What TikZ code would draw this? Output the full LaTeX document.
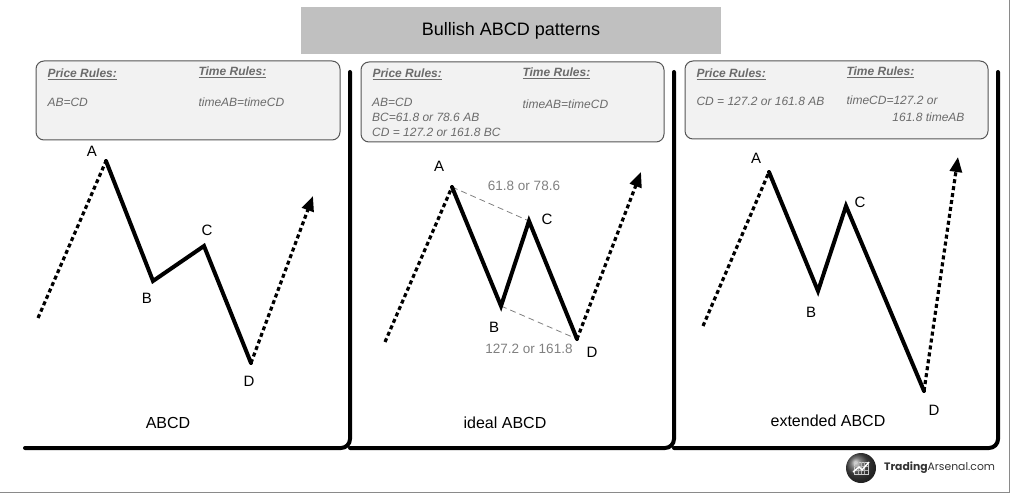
\documentclass[tikz,border=0pt]{standalone}
\usepackage{fontspec}
\setmainfont{Liberation Sans}
\newfontfamily\brandfont{Poppins}
\usetikzlibrary{arrows.meta,shapes.geometric}
\definecolor{titlegray}{HTML}{C0C0C0}
\definecolor{boxfill}{HTML}{F2F2F2}
\definecolor{boxline}{HTML}{555555}
\definecolor{ruletext}{HTML}{6B6B6B}
\definecolor{framegray}{HTML}{8A8A8A}
\definecolor{fibgray}{HTML}{808080}
\tikzset{
  panel/.style={line width=4pt, line cap=round, rounded corners=9pt},
  rulebox/.style={draw=boxline, fill=boxfill, line width=1pt, rounded corners=8pt},
  rulehead/.style={anchor=west, text=ruletext, font=\fontsize{12}{14}\selectfont\bfseries\itshape},
  ruletxt/.style={anchor=west, text=ruletext, font=\fontsize{12}{14}\selectfont\itshape, align=left},
  leg/.style={line width=4pt, line cap=round, line join=miter},
  trend/.style={line width=3.2pt, dash pattern=on 4pt off 3pt},
  trendarrow/.style={trend, -{Triangle[length=15pt,width=12pt]}},
  fib/.style={draw=fibgray, line width=0.8pt, dash pattern=on 6pt off 4pt},
  ptlabel/.style={font=\fontsize{15}{17}\selectfont},
  fiblabel/.style={text=fibgray, font=\fontsize{13.5}{16}\selectfont},
  caption/.style={font=\fontsize{16}{18}\selectfont},
}
\begin{document}
\begin{tikzpicture}[x=1pt,y=-1pt]
\useasboundingbox (0,0) rectangle (1011,494);
% outer frame (right and bottom edges)
\draw[framegray, line width=1.2pt] (1009.5,0) -- (1009.5,492.5) -- (0,492.5);
% title
\node[fill=titlegray, minimum width=420pt, minimum height=47pt, inner sep=0pt,
      font=\fontsize{18}{20}\selectfont] (title) at (511,30.5) {Bullish ABCD patterns};

% ---------- panels ----------
\draw[panel] (25,448) -| (350,72);
\draw[panel] (350,448) -| (674,72);
\draw[panel] (674,448) -| (998,72);

% ---------- rule boxes ----------
\draw[rulebox] (36,61) rectangle (340,140);
\node[rulehead] (p1h) at (44,74) {\underline{Price Rules:}};
\node[rulehead] (t1h) at (195,72) {\underline{Time Rules:}};
\node[ruletxt] (p1t) at (44,102) {AB=CD};
\node[ruletxt] (t1t) at (195,102) {timeAB=timeCD};

\draw[rulebox] (361,62) rectangle (664,142);
\node[rulehead] (p2h) at (369,74) {\underline{Price Rules:}};
\node[rulehead] (t2h) at (519,73) {\underline{Time Rules:}};
\node[ruletxt, inner sep=0pt] (p2a) at (372,102) {AB=CD};
\node[ruletxt, inner sep=0pt] (p2b) at (372,117) {BC=61.8 or 78.6 AB};
\node[ruletxt, inner sep=0pt] (p2c) at (372,132) {CD = 127.2 or 161.8 BC};
\node[ruletxt] (t2t) at (519,104) {timeAB=timeCD};

\draw[rulebox] (685,61) rectangle (988,139);
\node[rulehead] (p3h) at (693,74) {\underline{Price Rules:}};
\node[rulehead] (t3h) at (843,72) {\underline{Time Rules:}};
\node[ruletxt] (p3t) at (693,101) {CD = 127.2 or 161.8 AB};
\node[ruletxt] (t3a) at (843,100) {timeCD=127.2 or};
\node[ruletxt, anchor=east] (t3b) at (968,117) {161.8 timeAB};

% ---------- panel 1 chart ----------
\coordinate (s1) at (38,318);
\coordinate (A1) at (106,161);
\coordinate (B1) at (153,281);
\coordinate (C1) at (204,246);
\coordinate (D1) at (251,363);
\coordinate (e1) at (313,196);
\draw[trend] (s1) -- (A1);
\draw[leg] (A1) -- (B1) -- (C1) -- (D1);
\draw[trendarrow] (D1) -- (e1);
\node[ptlabel] (lA1) at (92,151) {A};
\node[ptlabel] (lB1) at (147,298) {B};
\node[ptlabel] (lC1) at (207,230) {C};
\node[ptlabel] (lD1) at (249,381) {D};
\node[caption] (cap1) at (168,423) {ABCD};

% ---------- panel 2 chart ----------
\coordinate (s2) at (385,342);
\coordinate (A2) at (452,187);
\coordinate (B2) at (501,306);
\coordinate (C2) at (529,221);
\coordinate (D2) at (577,339);
\coordinate (e2) at (641,172);
\draw[fib] (A2) -- (C2);
\draw[fib] (B2) -- (D2);
\draw[trend] (s2) -- (A2);
\draw[leg] (A2) -- (B2) -- (C2) -- (D2);
\draw[trendarrow] (D2) -- (e2);
\node[ptlabel] (lA2) at (439,166) {A};
\node[ptlabel] (lB2) at (494,327) {B};
\node[ptlabel] (lC2) at (547,219) {C};
\node[ptlabel] (lD2) at (592,352) {D};
\node[fiblabel] (f1) at (524,186) {61.8 or 78.6};
\node[fiblabel] (f2) at (529,349) {127.2 or 161.8};
\node[caption] (cap2) at (505,423) {ideal ABCD};

% ---------- panel 3 chart ----------
\coordinate (s3) at (703,326);
\coordinate (A3) at (769,172);
\coordinate (B3) at (818,291);
\coordinate (C3) at (846,206);
\coordinate (D3) at (924,391);
\coordinate (e3) at (958,157);
\draw[trend] (s3) -- (A3);
\draw[leg] (A3) -- (B3) -- (C3) -- (D3);
\draw[trendarrow] (D3) -- (e3);
\node[ptlabel] (lA3) at (756,158) {A};
\node[ptlabel] (lB3) at (811,312) {B};
\node[ptlabel] (lC3) at (860,202) {C};
\node[ptlabel] (lD3) at (934,410) {D};
\node[caption] (cap3) at (828,421) {extended ABCD};

% ---------- logo ----------
\shade[ball color=black!70] (861,468) circle (15pt);
\begin{scope}[shift={(861,468)}]
  \draw[white!80!black, line width=0.5pt] (-7,-6) rectangle (7,6);
  \foreach \g in {-3,0,3} {
    \draw[white!70!black, line width=0.4pt] (\g,-6) -- (\g,6);
  }
  \foreach \g in {-2,2} {
    \draw[white!70!black, line width=0.4pt] (-7,\g) -- (7,\g);
  }
  \draw[white, line width=1.4pt] (-8,4) -- (-2,-1) -- (1,2) -- (8,-6);
\end{scope}
\node[anchor=west, text=black!80, font=\brandfont\fontsize{10.8}{13}\selectfont, inner sep=0pt] (brand) at (884,468) {\textbf{Trading}Arsenal.com};
\end{tikzpicture}
\end{document}
